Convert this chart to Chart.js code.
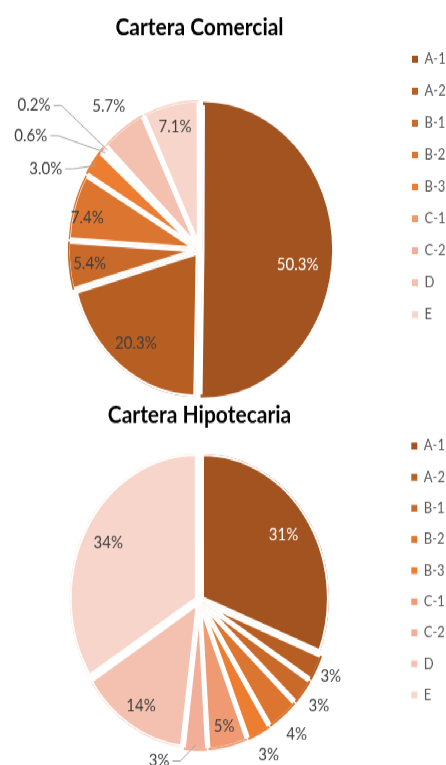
<!DOCTYPE html>
<html>
<head>
<meta charset="utf-8">
<script src="https://cdn.jsdelivr.net/npm/chart.js@4.4.1/dist/chart.umd.min.js"></script>
<style>
  html { overflow: hidden; }
  html, body { margin: 0; padding: 0; background: #fff; }
  body { height: 765px; }
  #wrap {
    position: relative;
    width: 446px;
    height: 671px;
    transform: scaleY(1.14);
    transform-origin: 0 0;
  }
  #wrap canvas { position: absolute; left: 0; }
  #comercial { top: 0; }
  #hipotecaria { top: 340px; }
</style>
</head>
<body>
<div id="wrap">
  <canvas id="comercial" width="446" height="360"></canvas>
  <canvas id="hipotecaria" width="446" height="340"></canvas>
</div>
<script>
const categories = ['A-1', 'A-2', 'B-1', 'B-2', 'B-3', 'C-1', 'C-2', 'D', 'E']
const comercialValues = [50.3, 20.3, 5.4, 7.4, 3.0, 0.6, 0.2, 5.7, 7.1]
const hipotecariaValues = [31, 3, 3, 4, 3, 5, 3, 14, 34]

const sliceColors = [
  '#A3531F', '#B75E23', '#C9692A', '#DC752F', '#ED7D31',
  '#F09A73', '#F2AE98', '#F4C1B1', '#F8D5CA',
]

Chart.defaults.font.family = 'Lato'

// where each percentage goes: r = fraction of radius (turn = degrees off the slice middle),
// leader = [dx, dy] of the text end from the slice edge
const comercialPlace = [
  { r: 0.78, turn: 7 }, { r: 0.82 }, { r: 0.87 }, { r: 0.91, turn: -3 },
  { leader: [-34, 3] }, { leader: [-58, -15] }, { leader: [-57, -39] },
  { r: 1.22 }, { r: 0.87 },
]
const hipotecariaPlace = [
  { r: 0.8 }, { r: 1.16 }, { r: 1.19 }, { r: 1.2 }, { r: 1.2 },
  { r: 0.89 }, { leader: [-26, 14] }, { r: 0.86 }, { r: 0.82 },
]

const sliceLabels = {
  id: 'sliceLabels',
  afterDatasetsDraw(chart, args, opts) {
    const ctx = chart.ctx
    const meta = chart.getDatasetMeta(0)
    const values = chart.data.datasets[0].data
    ctx.save()
    ctx.font = '15px Lato'
    ctx.textBaseline = 'middle'
    meta.data.forEach((arc, i) => {
      const p = arc.getProps(['x', 'y', 'startAngle', 'endAngle', 'outerRadius'], true)
      const place = opts.place[i]
      const mid = (p.startAngle + p.endAngle) / 2 + ((place.turn || 0) * Math.PI) / 180
      const cos = Math.cos(mid)
      const sin = Math.sin(mid)
      const text = values[i].toFixed(opts.decimals) + '%'
      ctx.fillStyle = i === 0 ? '#ffffff' : '#404040'
      if (place.leader) {
        const ex = p.x + cos * p.outerRadius
        const ey = p.y + sin * p.outerRadius
        const tx = ex + place.leader[0]
        const ty = ey + place.leader[1]
        ctx.strokeStyle = '#a6a6a6'
        ctx.lineWidth = 1
        ctx.beginPath()
        ctx.moveTo(ex, ey)
        ctx.lineTo(tx + 11, ty)
        ctx.lineTo(tx + 3, ty)
        ctx.stroke()
        ctx.textAlign = 'right'
        ctx.fillText(text, tx, ty)
      } else {
        ctx.textAlign = 'center'
        const d = p.outerRadius * place.r
        ctx.fillText(text, p.x + cos * d, p.y + sin * d)
      }
    })
    ctx.restore()
  },
}

function makePie(id, titleText, values, place, decimals, layout) {
  return new Chart(document.getElementById(id).getContext('2d'), {
    type: 'pie',
    data: {
      labels: categories,
      datasets: [
        {
          data: values,
          backgroundColor: sliceColors,
          borderColor: '#ffffff',
          borderWidth: 2,
          borderAlign: 'inner',
          offset: 12,
        },
      ],
    },
    plugins: [sliceLabels],
    options: {
      responsive: false,
      animation: false,
      devicePixelRatio: 1,
      radius: 127,
      layout: { padding: { left: 2, right: 0, top: 0, bottom: layout.bottom } },
      plugins: {
        title: {
          display: true,
          text: titleText,
          fullSize: false,
          color: '#000000',
          font: { family: 'Lato', size: 21, weight: 'bold' },
          padding: { top: 12, bottom: layout.titleGap },
        },
        legend: {
          position: 'right',
          maxWidth: 49,
          labels: {
            boxWidth: 6,
            boxHeight: 6,
            padding: layout.legendPad,
            color: '#595959',
            font: { family: 'Lato', size: 13 },
            generateLabels: chart =>
              Chart.overrides.doughnut.plugins.legend.labels
                .generateLabels(chart)
                .map(item => ({ ...item, lineWidth: 0, strokeStyle: 'rgba(0,0,0,0)' })),
          },
        },
        tooltip: { enabled: false },
        sliceLabels: { place: place, decimals: decimals },
      },
    },
  })
}

const comercialChart = makePie('comercial', 'Cartera Comercial', comercialValues, comercialPlace, 1,
  { bottom: 32, titleGap: 73, legendPad: 15 })
const hipotecariaChart = makePie('hipotecaria', 'Cartera Hipotecaria', hipotecariaValues, hipotecariaPlace, 0,
  { bottom: 19, titleGap: 15, legendPad: 14.3 })
</script>
</body>
</html>
